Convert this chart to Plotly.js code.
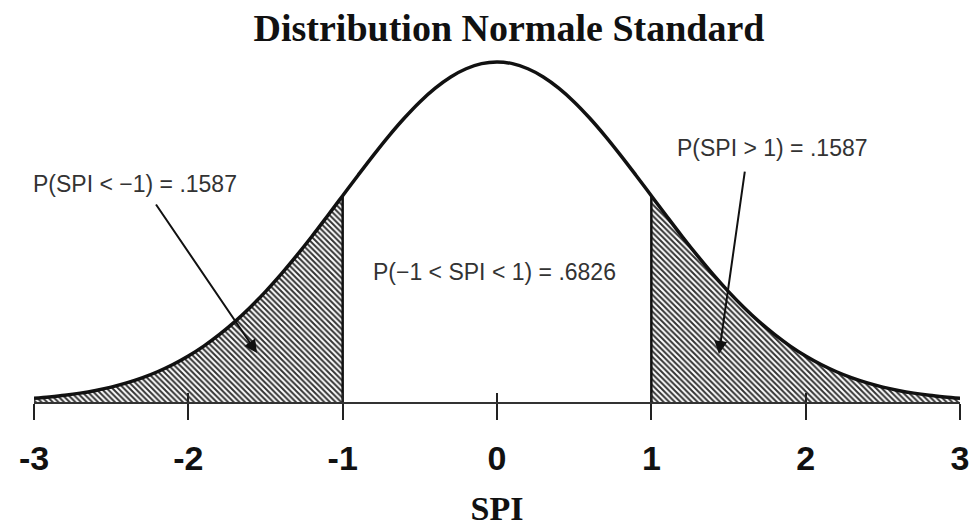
<!DOCTYPE html>
<html>
<head>
<meta charset="utf-8">
<script src="https://cdn.plot.ly/plotly-3.0.1.min.js"></script>
<style>html,body{margin:0;padding:0;background:#fff}#chart{width:977px;height:527px}</style>
</head>
<body>
<div id="chart"></div>
<script>
// SPI values (x) and standard normal density (y)
const spi = [-3.0,-2.9,-2.8,-2.7,-2.6,-2.5,-2.4,-2.3,-2.2,-2.1,-2.0,-1.9,-1.8,-1.7,-1.6,-1.5,-1.4,-1.3,-1.2,-1.1,-1.0,
  -0.9,-0.8,-0.7,-0.6,-0.5,-0.4,-0.3,-0.2,-0.1,0.0,0.1,0.2,0.3,0.4,0.5,0.6,0.7,0.8,0.9,
  1.0,1.1,1.2,1.3,1.4,1.5,1.6,1.7,1.8,1.9,2.0,2.1,2.2,2.3,2.4,2.5,2.6,2.7,2.8,2.9,3.0];
const density = [0.0044,0.0060,0.0079,0.0104,0.0136,0.0175,0.0224,0.0283,0.0355,0.0440,0.0540,0.0656,0.0790,0.0940,0.1109,0.1295,0.1497,0.1714,0.1942,0.2179,0.2420,
  0.2661,0.2897,0.3123,0.3332,0.3521,0.3683,0.3814,0.3910,0.3970,0.3989,0.3970,0.3910,0.3814,0.3683,0.3521,0.3332,0.3123,0.2897,0.2661,
  0.2420,0.2179,0.1942,0.1714,0.1497,0.1295,0.1109,0.0940,0.0790,0.0656,0.0540,0.0440,0.0355,0.0283,0.0224,0.0175,0.0136,0.0104,0.0079,0.0060,0.0044];
const tickVals = [-3,-2,-1,0,1,2,3];
const tickText = ['-3','-2','-1','0','1','2','3'];
const cutLow = -1, cutHigh = 1;
const probLow = '.1587', probMid = '.6826', probHigh = '.1587';

const leftX = [], leftY = [], rightX = [], rightY = [];
spi.forEach((v,i)=>{
  if (v <= cutLow) { leftX.push(v); leftY.push(density[i]); }
  if (v >= cutHigh) { rightX.push(v); rightY.push(density[i]); }
});
const dLow = density[spi.indexOf(cutLow)], dHigh = density[spi.indexOf(cutHigh)];

const hatch = {shape:'\\', size:4, solidity:0.5, fgcolor:'#333', bgcolor:'#ffffff', fillmode:'replace'};

const traces = [
  {x:leftX, y:leftY, type:'scatter', mode:'lines', line:{width:0, shape:'spline'}, fill:'tozeroy', fillpattern:hatch, fillcolor:'#ffffff', hoverinfo:'skip'},
  {x:rightX, y:rightY, type:'scatter', mode:'lines', line:{width:0, shape:'spline'}, fill:'tozeroy', fillpattern:hatch, fillcolor:'#ffffff', hoverinfo:'skip'},
  {x:[cutLow,cutLow], y:[0,dLow], type:'scatter', mode:'lines', line:{color:'#111', width:2.5}},
  {x:[cutHigh,cutHigh], y:[0,dHigh], type:'scatter', mode:'lines', line:{color:'#111', width:2.5}},
  {x:spi, y:density, type:'scatter', mode:'lines', line:{color:'#111', width:3.5, shape:'spline'}},
  {x:[tickVals[0]], y:[0], xaxis:'x2', type:'scatter', mode:'markers', marker:{opacity:0}, hoverinfo:'skip'}
];

const txtFont = {family:'Liberation Sans, Arial, sans-serif', size:23, color:'#333'};
const layout = {
  width:977, height:527,
  margin:{l:34, r:17, t:27, b:125},
  paper_bgcolor:'#fff', plot_bgcolor:'#fff',
  showlegend:false,
  title:{text:'Distribution Normale Standard', font:{family:'Liberation Serif, Times New Roman, serif', size:38, weight:'bold', color:'#111'},
    xref:'paper', x:0.513, xanchor:'center', yref:'container', y:0.947, yanchor:'middle'},
  xaxis:{range:[-3,3], tickvals:tickVals, ticktext:tickText, ticks:'outside', ticklen:16, tickwidth:2, tickcolor:'#222',
    showline:true, linecolor:'#333', linewidth:2, showgrid:false, zeroline:false,
    tickfont:{family:'Liberation Sans, Arial, sans-serif', size:34, weight:'bold', color:'#111'},
    ticklabelstandoff:9,
    title:{text:'SPI', font:{family:'Liberation Serif, Times New Roman, serif', size:34, weight:'bold', color:'#111'}, standoff:20}},
  xaxis2:{range:[-3,3], overlaying:'x', anchor:'y', side:'bottom', tickvals:tickVals, ticks:'inside', ticklen:9, tickwidth:2, tickcolor:'#222',
    showticklabels:false, showline:false, showgrid:false, zeroline:false},
  yaxis:{range:[0,0.44], visible:false, showgrid:false, zeroline:false},
  annotations:[
    {xref:'x', yref:'y', x:-2.346, y:0.2557, text:'P(SPI < \u22121) = '+probLow, showarrow:false, font:txtFont},
    {xref:'x', yref:'y', x:1.782, y:0.2986, text:'P(SPI > 1) = '+probHigh, showarrow:false, font:txtFont},
    {xref:'x', yref:'y', x:-0.013, y:0.1525, text:'P(\u22121 < SPI < 1) = '+probMid, showarrow:false, font:txtFont},
    {xref:'x', yref:'y', axref:'x', ayref:'y', x:-1.555, y:0.0575, ax:-2.216, ay:0.2335, text:'', showarrow:true, arrowhead:2, arrowsize:1.3, arrowwidth:2, arrowcolor:'#111'},
    {xref:'x', yref:'y', axref:'x', ayref:'y', x:1.438, y:0.0563, ax:1.607, ay:0.272, text:'', showarrow:true, arrowhead:2, arrowsize:1.3, arrowwidth:2, arrowcolor:'#111'}
  ]
};
Plotly.newPlot('chart', traces, layout, {displayModeBar:false, staticPlot:true});
</script>
</body>
</html>
